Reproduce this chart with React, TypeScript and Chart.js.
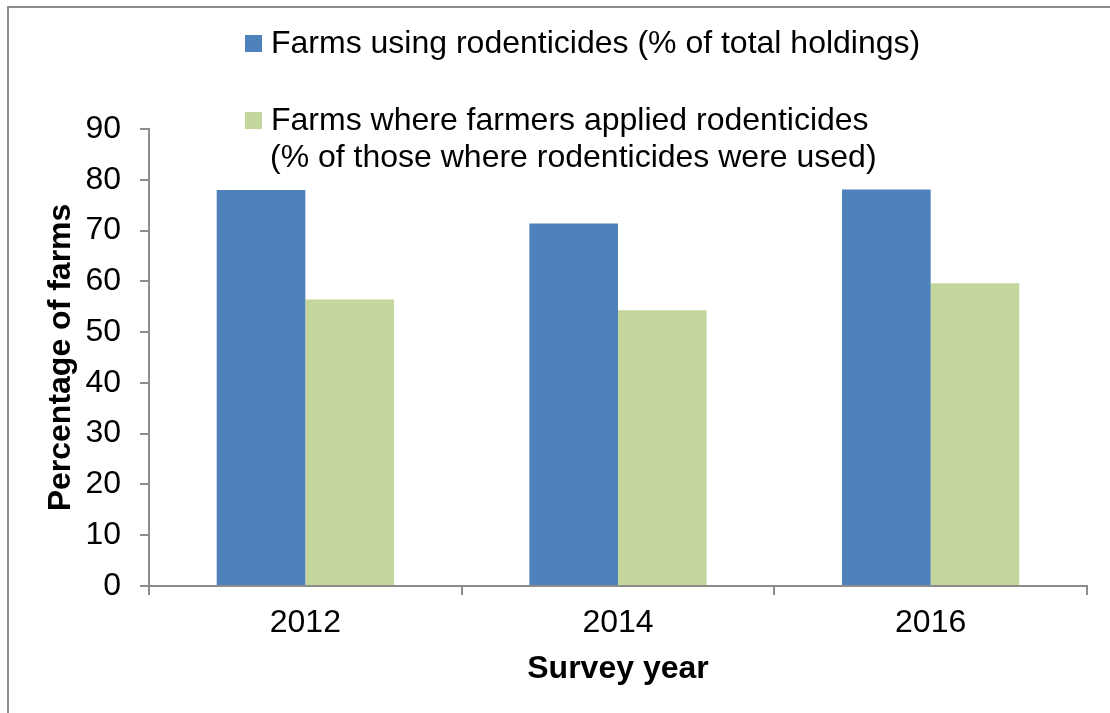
import React, { useEffect, useRef } from 'react';
import { Chart, registerables } from 'chart.js';

Chart.register(...registerables);

const categories = ['2012', '2014', '2016'];
const seriesNames = [
  ['Farms using rodenticides (% of total holdings)'],
  ['Farms where farmers applied rodenticides', '(% of those where rodenticides were used)'],
];
const usingValues = [78.0, 71.4, 78.1];
const appliedValues = [56.4, 54.3, 59.6];
const yMin = 0;
const yMax = 90;
const yStep = 10;
const xTitle = 'Survey year';
const yTitle = 'Percentage of farms';

const FONT = '"Liberation Sans", Arial, sans-serif';
const AXIS_GRAY = '#8c8c8c';
const BLUE = '#4F81BD';
const GREEN = '#C3D69B';
const FS = 32;

const decorPlugin = {
  id: 'decor',
  beforeDraw(chart: any) {
    const ctx = chart.ctx;
    ctx.save();
    ctx.fillStyle = '#ffffff';
    ctx.fillRect(0, 0, chart.width, chart.height);
    ctx.restore();
  },
  afterDraw(chart: any) {
    const ctx = chart.ctx;
    ctx.save();
    // outer frame (top & left visible)
    ctx.strokeStyle = AXIS_GRAY;
    ctx.lineWidth = 2;
    ctx.beginPath();
    ctx.moveTo(8, chart.height);
    ctx.lineTo(8, 7);
    ctx.lineTo(chart.width, 7);
    ctx.stroke();

    // legend
    const boxX = 245;
    const boxSize = 17;
    const textX = 271;
    const itemBaselines = [53, 130];
    const lineGap = 37;
    ctx.font = `${FS}px ${FONT}`;
    ctx.textBaseline = 'alphabetic';
    ctx.textAlign = 'left';
    chart.data.datasets.forEach((ds: any, i: number) => {
      const base = itemBaselines[i];
      ctx.fillStyle = ds.backgroundColor;
      ctx.fillRect(boxX, base - 18, boxSize, boxSize);
      ctx.fillStyle = '#000000';
      const lines: string[] = ds.legendLines;
      lines.forEach((ln, j) => {
        ctx.fillText(ln, textX - (j > 0 ? 1 : 0), base + j * lineGap);
      });
    });
    ctx.restore();
  },
};

export default function App() {
  const canvasRef = useRef<HTMLCanvasElement | null>(null);

  useEffect(() => {
    if (!canvasRef.current) return;
    const chart = new Chart(canvasRef.current, {
      type: 'bar',
      data: {
        labels: categories,
        datasets: [
          {
            label: seriesNames[0].join(' '),
            legendLines: seriesNames[0],
            data: usingValues,
            backgroundColor: BLUE,
            borderWidth: 0,
          } as any,
          {
            label: seriesNames[1].join(' '),
            legendLines: seriesNames[1],
            data: appliedValues,
            backgroundColor: GREEN,
            borderWidth: 0,
          } as any,
        ],
      },
      options: {
        animation: false,
        responsive: false,
        devicePixelRatio: 1,
        layout: { padding: { top: 129, right: 23, left: 0, bottom: 0 } },
        datasets: { bar: { categoryPercentage: 0.567, barPercentage: 1 } },
        plugins: {
          legend: { display: false },
          tooltip: { enabled: false },
          title: { display: false },
        },
        scales: {
          x: {
            type: 'category',
            offset: true,
            grid: {
              offset: true,
              drawOnChartArea: false,
              drawTicks: true,
              tickLength: 9,
              color: AXIS_GRAY,
              lineWidth: 2,
            },
            border: { display: true, color: AXIS_GRAY, width: 2 },
            ticks: {
              color: '#000000',
              font: { size: FS, family: FONT },
              padding: 9,
              maxRotation: 0,
              autoSkip: false,
            },
            title: {
              display: true,
              text: xTitle,
              color: '#000000',
              font: { size: FS, family: FONT, weight: 'bold' },
              padding: { top: 0, bottom: 25 },
            },
            afterFit: (s: any) => {
              s.height = 127;
            },
          },
          y: {
            min: yMin,
            max: yMax,
            grid: {
              drawOnChartArea: false,
              drawTicks: true,
              tickLength: 9,
              color: AXIS_GRAY,
              lineWidth: 2,
            },
            border: { display: true, color: AXIS_GRAY, width: 2 },
            ticks: {
              stepSize: yStep,
              color: '#000000',
              font: { size: FS, family: FONT },
              padding: 19,
            },
            title: {
              display: true,
              text: yTitle,
              color: '#000000',
              font: { size: FS, family: FONT, weight: 'bold' },
              padding: { top: 42, bottom: 0 },
            },
            afterFit: (s: any) => {
              s.width = 149;
            },
          },
        },
      } as any,
      plugins: [decorPlugin],
    });
    return () => chart.destroy();
  }, []);

  return (
    <div style={{ position: 'fixed', left: 0, top: 0, width: 1110, height: 713, background: '#fff' }}>
      <canvas ref={canvasRef} width={1110} height={713} style={{ display: 'block' }} />
    </div>
  );
}
